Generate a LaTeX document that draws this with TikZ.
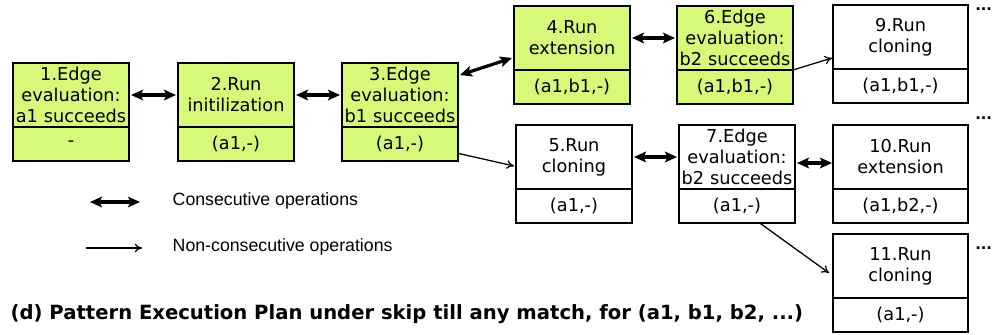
\documentclass[tikz,border=0pt]{standalone}
\usepackage{fontspec}
\setmainfont{DejaVu Sans}
\newfontfamily\legendfont{Liberation Sans}
\usetikzlibrary{positioning,arrows.meta}
\definecolor{opgreen}{RGB}{214,249,122}
\tikzset{
	op/.style={draw, line width=1.1pt, anchor=north west, inner sep=0pt, outer sep=0pt,
		minimum width=87pt, minimum height=48pt, text width=86pt, align=center,
		font=\fontsize{13.3}{15.75}\selectfont},
	opwide/.style={op, minimum width=101.25pt, text width=100pt},
	res/.style={op, minimum height=25.5pt},
	reswide/.style={opwide, minimum height=25.5pt},
	done/.style={fill=opgreen},
	cons/.style={line width=2.4pt, {Stealth[length=9pt,width=8pt,inset=2pt]}-{Stealth[length=9pt,width=8pt,inset=2pt]}},
	noncons/.style={line width=0.95pt, -{To[length=5.5pt,width=6.5pt]}},
	more/.style={anchor=west, inner sep=0pt, font=\bfseries\fontsize{11}{11}\selectfont},
	legend/.style={anchor=west, font=\legendfont\fontsize{13.3}{15}\selectfont}
}

\begin{document}
\begin{tikzpicture}[x=0.75pt, y=-0.75pt]
		%%%%% START %%%%%
		\useasboundingbox (0,0) rectangle (993,335);
		
		% upper path (green)
		\node[op, done] (t1) at (13, 63) {1.Edge\\evaluation:\\a1 succeeds};
		\node[res, done, below=0pt of t1] (b1) {-};
		\node[op, done] (t2) at (178, 63) {2.Run\\initilization};
		\node[res, done, below=0pt of t2] (b2) {(a1,-)};
		\node[op, done] (t3) at (342, 63) {3.Edge\\evaluation:\\b1 succeeds};
		\node[res, done, below=0pt of t3] (b3) {(a1,-)};
		\node[op, done] (t4) at (514, 6) {4.Run\\extension};
		\node[res, done, below=0pt of t4] (b4) {(a1,b1,-)};
		\node[op, done] (t6) at (677, 6) {6.Edge\\evaluation:\\b2 succeeds};
		\node[res, done, below=0pt of t6] (b6) {(a1,b1,-)};
		
		% other runs
		\node[opwide] (t9) at (833, 5) {9.Run\\cloning};
		\node[reswide, below=0pt of t9] (b9) {(a1,b1,-)};
		\node[op] (t5) at (516, 125) {5.Run\\cloning};
		\node[res, below=0pt of t5] (b5) {(a1,-)};
		\node[op] (t7) at (679, 125) {7.Edge\\evaluation:\\b2 succeeds};
		\node[res, below=0pt of t7] (b7) {(a1,-)};
		\node[opwide] (t10) at (833, 125) {10.Run\\extension};
		\node[reswide, below=0pt of t10] (b10) {(a1,b2,-)};
		\node[opwide] (t11) at (833, 234) {11.Run\\cloning};
		\node[reswide, below=0pt of t11] (b11) {(a1,-)};
		
		\node[more] (m9) at (975, 9) {...};
		\node[more] (m10) at (975, 118) {...};
		\node[more] (m11) at (975, 248) {...};
		
		% connectors
		\draw[cons] ([xshift=1.5]t1.east) -- ([xshift=-1.5]t2.west);
		\draw[cons] ([xshift=1.5]t2.east) -- ([xshift=-1.5]t3.west);
		\draw[cons] ([shift={(2,12)}]t3.north east) -- ([shift={(-2,-12)}]t4.south west);
		\draw[cons] ([xshift=1.5]t4.east) -- ([xshift=-1.5]t6.west);
		\draw[noncons] (t6.south east) -- ([shift={(-1,-11)}]t9.south west);
		\draw[noncons] ([yshift=-7]b3.east) -- ([shift={(-2,9)}]t5.west);
		\draw[cons] ([xshift=1.5]t5.east) -- ([xshift=-1.5]t7.west);
		\draw[cons] ([shift={(2,6)}]t7.east) -- ([shift={(-1,6)}]t10.west);
		\draw[noncons] ([xshift=17]b7.south) -- ([shift={(-4,7)}]t11.west);
		
		% legend
		\coordinate (c1) at (90, 202);
		\coordinate (c2) at (140, 202);
		\draw[cons] (c1) -- (c2);
		\node[legend] (lc) at (168, 201) {Consecutive operations};
		\coordinate (n1) at (86, 248);
		\coordinate (n2) at (142, 248);
		\draw[noncons] (n1) -- (n2);
		\node[legend] (ln) at (168, 247) {Non-consecutive operations};
		
		\node[anchor=west, font=\bfseries\fontsize{14.7}{16}\selectfont] (cap) at (6, 314)
			{(d) Pattern Execution Plan under skip till any match, for (a1, b1, b2, ...)};
		%%%%% END %%%%%
\end{tikzpicture}
\end{document}
